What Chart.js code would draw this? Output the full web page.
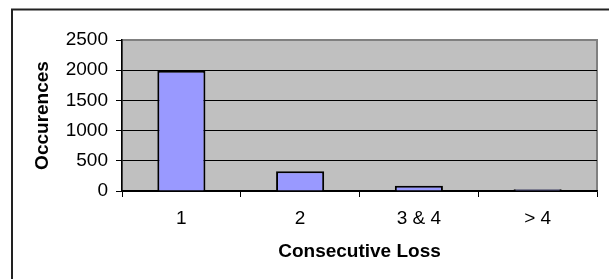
<!DOCTYPE html>
<html>
<head>
<meta charset="utf-8">
<script src="https://cdn.jsdelivr.net/npm/chart.js@4"></script>
<style>
  html, body { margin: 0; padding: 0; background: #fff; }
  #wrap { position: relative; width: 609px; height: 279px; }
</style>
</head>
<body>
<div id="wrap"><canvas id="lossChart" width="609" height="279"></canvas></div>
<script>
const categories = ['1', '2', '3 & 4', '> 4'];
const occurences = [1990, 325, 85, 30];
const yTicks = [0, 500, 1000, 1500, 2000, 2500];

// frame around the whole chart + grey plot area
const plotBackground = {
    id: 'plotBackground',
    beforeDraw(chart) {
        const { ctx, chartArea: a } = chart;
        ctx.save();
        ctx.strokeStyle = '#222';
        ctx.lineWidth = 2;
        ctx.strokeRect(12, 9.5, 800, 400);
        ctx.fillStyle = '#C0C0C0';
        ctx.fillRect(a.left, a.top, a.right - a.left, a.bottom - a.top);
        ctx.strokeStyle = '#808080';
        ctx.lineWidth = 2;
        ctx.strokeRect(a.left, a.top, a.right - a.left, a.bottom - a.top);
        ctx.restore();
    }
};

const font = 'Arial, "Liberation Sans", sans-serif';

new Chart(document.getElementById('lossChart').getContext('2d'), {
    type: 'bar',
    data: {
        labels: categories,
        datasets: [{
            label: 'Occurences',
            data: occurences,
            backgroundColor: '#9999FF',
            borderColor: '#000',
            borderWidth: 2,
            categoryPercentage: 1,
            barPercentage: 0.405
        }]
    },
    options: {
        responsive: false,
        animation: false,
        layout: { padding: { left: 0, top: 40, right: 12, bottom: 0 } },
        plugins: {
            legend: { display: false },
            tooltip: { enabled: false }
        },
        scales: {
            x: {
                grid: {
                    offset: true,
                    drawOnChartArea: false,
                    tickLength: 6,
                    tickColor: '#000'
                },
                border: { color: '#000', width: 1.5 },
                ticks: { color: '#000', padding: 10, font: { family: font, size: 19 } },
                title: {
                    display: true,
                    text: 'Consecutive Loss',
                    color: '#000',
                    font: { family: font, size: 19, weight: 'bold' },
                    padding: { top: 0, bottom: 16 }
                },
                afterFit(scale) { scale.height = 88; }
            },
            y: {
                min: 0,
                max: 2500,
                afterBuildTicks(scale) { scale.ticks = yTicks.map(v => ({ value: v })); },
                grid: {
                    color: ctx => ctx.tick && ctx.tick.value === 2500 ? '#808080' : '#000',
                    tickColor: '#000',
                    tickLength: 6,
                    lineWidth: 1
                },
                border: { color: '#000', width: 1.5 },
                ticks: {
                    color: '#000',
                    padding: 8,
                    font: { family: font, size: 19 },
                    callback: value => String(value)
                },
                title: {
                    display: true,
                    text: 'Occurences',
                    color: '#000',
                    font: { family: font, size: 19, weight: 'bold' },
                    padding: { top: 31, bottom: 0 }
                },
                afterFit(scale) { scale.width = 122; }
            }
        }
    },
    plugins: [plotBackground]
});
</script>
</body>
</html>
